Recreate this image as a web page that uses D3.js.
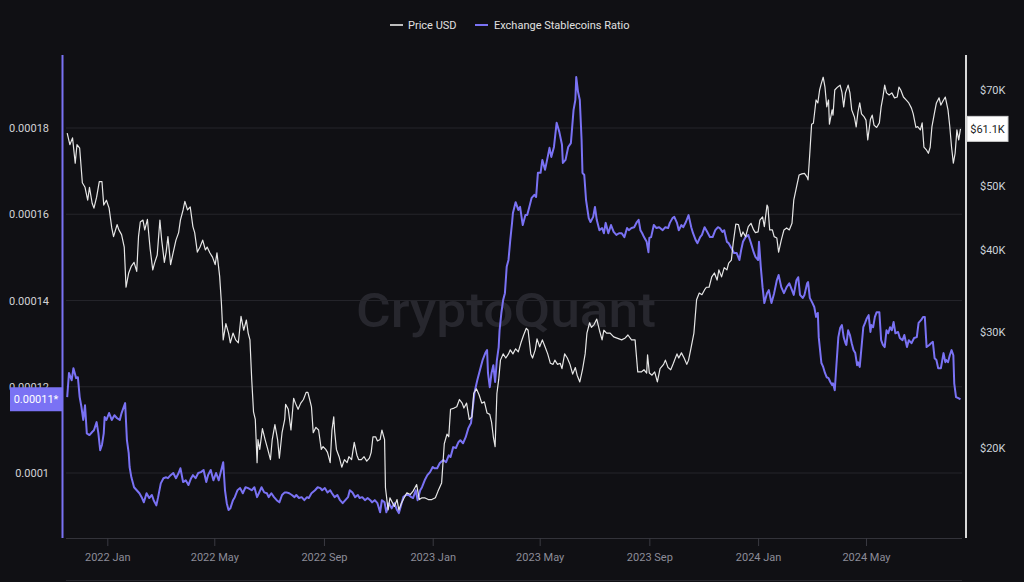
<!DOCTYPE html>
<html><head><meta charset="utf-8">
<script src="https://cdn.jsdelivr.net/npm/d3@7"></script>
<style>
html,body{margin:0;padding:0;background:#101014;}
svg{display:block;}
text{font-family:"Segoe UI",Roboto,"Noto Sans",sans-serif;}
</style></head><body>
<svg id="chart" width="1024" height="582"></svg>
<script>
// ---------- DATA ----------
const priceDates = [
"2021-11-17","2021-11-20","2021-11-23","2021-11-26","2021-11-28","2021-12-01","2021-12-04","2021-12-07","2021-12-10","2021-12-12",
"2021-12-15","2021-12-17","2021-12-20","2021-12-23","2021-12-26","2021-12-28","2021-12-31","2022-01-03","2022-01-06","2022-01-08",
"2022-01-12","2022-01-14","2022-01-17","2022-01-20","2022-01-22","2022-01-25","2022-01-28","2022-01-31","2022-02-03","2022-02-05",
"2022-02-07","2022-02-10","2022-02-12","2022-02-15","2022-02-18","2022-02-21","2022-02-23","2022-02-26","2022-03-01","2022-03-03",
"2022-03-06","2022-03-08","2022-03-10","2022-03-13","2022-03-16","2022-03-19","2022-03-22","2022-03-24","2022-03-27","2022-03-29",
"2022-04-01","2022-04-04","2022-04-07","2022-04-09","2022-04-12","2022-04-15","2022-04-18","2022-04-21","2022-04-23","2022-04-26",
"2022-04-29","2022-05-02","2022-05-04","2022-05-07","2022-05-09","2022-05-11","2022-05-14","2022-05-17","2022-05-19","2022-05-22",
"2022-05-25","2022-05-28","2022-05-31","2022-06-03","2022-06-06","2022-06-08","2022-06-10","2022-06-12","2022-06-14","2022-06-16",
"2022-06-18","2022-06-19","2022-06-21","2022-06-24","2022-06-27","2022-06-30","2022-07-03","2022-07-05","2022-07-08","2022-07-11",
"2022-07-13","2022-07-16","2022-07-19","2022-07-20","2022-07-23","2022-07-26","2022-07-29","2022-07-31","2022-08-03","2022-08-06",
"2022-08-09","2022-08-12","2022-08-14","2022-08-16","2022-08-18","2022-08-20","2022-08-23","2022-08-26","2022-08-29","2022-08-31",
"2022-09-03","2022-09-05","2022-09-08","2022-09-10","2022-09-12","2022-09-13","2022-09-15","2022-09-18","2022-09-21","2022-09-24",
"2022-09-27","2022-09-29","2022-10-02","2022-10-05","2022-10-08","2022-10-10","2022-10-13","2022-10-16","2022-10-19","2022-10-22",
"2022-10-24","2022-10-26","2022-10-29","2022-10-31","2022-11-03","2022-11-05","2022-11-08","2022-11-09","2022-11-12","2022-11-14",
"2022-11-17","2022-11-19","2022-11-22","2022-11-24","2022-11-27","2022-11-30","2022-12-03","2022-12-07","2022-12-10","2022-12-14",
"2022-12-17","2022-12-20","2022-12-23","2022-12-27","2022-12-31","2023-01-04","2023-01-07","2023-01-11","2023-01-14","2023-01-17",
"2023-01-19","2023-01-21","2023-01-25","2023-01-28","2023-01-31","2023-02-03","2023-02-05","2023-02-08","2023-02-11","2023-02-14",
"2023-02-16","2023-02-19","2023-02-22","2023-02-25","2023-02-28","2023-03-03","2023-03-06","2023-03-08","2023-03-10","2023-03-12",
"2023-03-14","2023-03-16","2023-03-18","2023-03-21","2023-03-24","2023-03-27","2023-03-29","2023-04-01","2023-04-04","2023-04-07",
"2023-04-10","2023-04-13","2023-04-16","2023-04-18","2023-04-21","2023-04-23","2023-04-26","2023-04-28","2023-05-01","2023-05-04",
"2023-05-07","2023-05-10","2023-05-13","2023-05-16","2023-05-18","2023-05-21","2023-05-24","2023-05-26","2023-05-29","2023-06-01",
"2023-06-04","2023-06-07","2023-06-10","2023-06-12","2023-06-15","2023-06-18","2023-06-21","2023-06-23","2023-06-26","2023-06-28",
"2023-07-01","2023-07-04","2023-07-07","2023-07-10","2023-07-12","2023-07-15","2023-07-19","2023-07-23","2023-07-26","2023-08-01",
"2023-08-05","2023-08-08","2023-08-12","2023-08-16","2023-08-19","2023-08-23","2023-08-26","2023-08-29","2023-08-30","2023-09-01",
"2023-09-04","2023-09-07","2023-09-10","2023-09-13","2023-09-17","2023-09-19","2023-09-22","2023-09-25","2023-09-28","2023-10-02",
"2023-10-04","2023-10-07","2023-10-10","2023-10-13","2023-10-15","2023-10-18","2023-10-21","2023-10-24","2023-10-27","2023-10-30",
"2023-11-02","2023-11-04","2023-11-07","2023-11-10","2023-11-13","2023-11-16","2023-11-18","2023-11-21","2023-11-24","2023-11-27",
"2023-11-29","2023-12-02","2023-12-04","2023-12-07","2023-12-10","2023-12-13","2023-12-15","2023-12-18","2023-12-21","2023-12-24",
"2023-12-27","2023-12-29","2024-01-01","2024-01-03","2024-01-06","2024-01-08","2024-01-11","2024-01-12","2024-01-14","2024-01-17",
"2024-01-19","2024-01-22","2024-01-24","2024-01-27","2024-01-30","2024-02-02","2024-02-05","2024-02-08","2024-02-10","2024-02-13",
"2024-02-16","2024-02-19","2024-02-22","2024-02-25","2024-02-26","2024-02-28","2024-03-01","2024-03-03","2024-03-06","2024-03-08",
"2024-03-10","2024-03-12","2024-03-14","2024-03-16","2024-03-18","2024-03-20","2024-03-21","2024-03-24","2024-03-25","2024-03-27",
"2024-03-30","2024-04-02","2024-04-04","2024-04-06","2024-04-08","2024-04-11","2024-04-13","2024-04-15","2024-04-18","2024-04-20",
"2024-04-22","2024-04-24","2024-04-26","2024-04-29","2024-05-01","2024-05-03","2024-05-06","2024-05-08","2024-05-10","2024-05-13",
"2024-05-16","2024-05-18","2024-05-20","2024-05-22","2024-05-24","2024-05-27","2024-05-30","2024-06-02","2024-06-05","2024-06-07",
"2024-06-09","2024-06-12","2024-06-15","2024-06-18","2024-06-21","2024-06-23","2024-06-26","2024-06-28","2024-07-01","2024-07-03",
"2024-07-05","2024-07-08","2024-07-10","2024-07-12","2024-07-14","2024-07-17","2024-07-19","2024-07-22","2024-07-24","2024-07-27",
"2024-07-29","2024-08-01","2024-08-03","2024-08-05","2024-08-07","2024-08-09","2024-08-11","2024-08-13","2024-08-15"
];
const priceValues = [
60200,57800,59200,54200,57800,57100,50600,49800,47600,49800,
47100,46300,48100,50800,50800,46800,47600,46300,43200,41900,
43700,42900,42200,40400,35100,36900,37800,38300,37100,41900,
44100,44400,42900,44500,40200,37300,38200,39300,44400,41400,
38300,39700,41900,38000,39700,41400,42500,44400,46000,47400,
46000,46500,43400,42500,39700,40400,41400,40000,40400,39600,
39000,38000,39600,36500,33200,29200,30900,29900,28900,29900,
29200,28900,31700,30200,31300,29900,29200,25400,22700,22100,
19000,20600,19900,21400,20600,19900,19200,20600,21700,20600,
19300,21100,22100,23300,22900,21300,23800,23400,22900,23400,
23700,24300,24300,23700,23100,21100,21500,21300,19900,20100,
19900,19700,19000,21300,22300,21200,19900,19400,18700,19200,
19000,19400,19200,20400,19500,19200,19200,19400,19100,19300,
19700,20800,20800,20500,20600,21300,20600,17400,16100,16800,
16500,16300,16700,16100,16500,16800,17100,17000,17200,17600,
16700,16800,16800,16700,16700,16800,17200,17700,20300,21000,
20800,22900,23000,23100,23700,23400,23000,23400,22100,22300,
24200,24600,24100,23400,23500,22600,22500,21900,20800,20100,
24200,25400,27200,27800,27400,27800,28200,27800,28300,28000,
28900,29700,30400,30200,27800,27400,28200,29300,28500,29200,
28500,27800,26900,26800,27200,26800,26900,26400,27800,27400,
26800,25900,26500,25800,25200,26300,27800,29900,31000,30500,
30800,31400,30200,29200,30200,29900,29900,29500,29400,29200,
29400,29700,29200,29200,26100,26100,26300,26000,27700,26000,
25800,26100,25200,26400,26800,27200,26500,26300,26900,27800,
27400,27900,27400,26800,27200,28500,29900,33600,34400,34200,
34800,35100,35100,36400,36900,36000,37300,36400,37600,37300,
38200,38600,40900,43800,43700,41900,42600,41900,43400,43900,
42900,42500,42600,44400,44900,43400,46800,46500,42900,42900,
41900,41700,39700,41400,42900,43200,42900,43900,47600,49800,
52000,52200,52300,51600,51100,56100,62100,62300,67600,66900,
70000,71700,73200,70700,66000,67600,62100,65300,64100,70000,
70700,71200,69500,66000,69300,71200,69300,65300,63700,61500,
64800,66900,64400,63700,63000,58800,63200,64100,61900,61400,
62400,66000,68300,71200,69300,68800,69300,68100,68300,70700,
70000,68300,67600,66900,65700,64400,61400,61600,60900,62400,
57300,56700,56100,57300,61600,64800,66900,68100,66400,67600,
68300,65300,61600,57300,54200,56100,60900,58800,61100
];
const ratioDates = [
"2021-11-17","2021-11-19","2021-11-22","2021-11-24","2021-11-27","2021-11-29","2021-12-01","2021-12-03","2021-12-05","2021-12-07",
"2021-12-09","2021-12-12","2021-12-15","2021-12-17","2021-12-20","2021-12-22","2021-12-24","2021-12-26","2021-12-28","2021-12-29",
"2021-12-31","2022-01-03","2022-01-06","2022-01-09","2022-01-12","2022-01-15","2022-01-17","2022-01-21","2022-01-23","2022-01-25",
"2022-01-26","2022-01-28","2022-01-31","2022-02-03","2022-02-06","2022-02-09","2022-02-11","2022-02-14","2022-02-17","2022-02-20",
"2022-02-22","2022-02-25","2022-02-27","2022-03-02","2022-03-05","2022-03-08","2022-03-10","2022-03-13","2022-03-16","2022-03-19",
"2022-03-22","2022-03-24","2022-03-27","2022-03-30","2022-04-02","2022-04-05","2022-04-07","2022-04-10","2022-04-13","2022-04-16",
"2022-04-19","2022-04-22","2022-04-24","2022-04-27","2022-04-30","2022-05-03","2022-05-06","2022-05-08","2022-05-11","2022-05-13",
"2022-05-15","2022-05-17","2022-05-19","2022-05-22","2022-05-24","2022-05-27","2022-05-30","2022-06-02","2022-06-05","2022-06-08",
"2022-06-12","2022-06-15","2022-06-18","2022-06-20","2022-06-23","2022-06-26","2022-06-29","2022-07-01","2022-07-04","2022-07-07",
"2022-07-10","2022-07-13","2022-07-16","2022-07-19","2022-07-21","2022-07-24","2022-07-27","2022-07-30","2022-08-01","2022-08-04",
"2022-08-07","2022-08-10","2022-08-13","2022-08-15","2022-08-18","2022-08-22","2022-08-25","2022-08-28","2022-08-30","2022-09-02",
"2022-09-05","2022-09-08","2022-09-10","2022-09-13","2022-09-16","2022-09-19","2022-09-22","2022-09-25","2022-09-28","2022-09-30",
"2022-10-03","2022-10-06","2022-10-09","2022-10-11","2022-10-14","2022-10-17","2022-10-20","2022-10-23","2022-10-25","2022-10-28",
"2022-10-31","2022-11-03","2022-11-05","2022-11-08","2022-11-10","2022-11-13","2022-11-16","2022-11-19","2022-11-22","2022-11-24",
"2022-11-26","2022-11-29","2022-12-02","2022-12-05","2022-12-08","2022-12-10","2022-12-13","2022-12-15","2022-12-18","2022-12-20",
"2022-12-23","2022-12-26","2022-12-29","2023-01-01","2023-01-03","2023-01-06","2023-01-09","2023-01-13","2023-01-16","2023-01-19",
"2023-01-21","2023-01-24","2023-01-27","2023-01-30","2023-02-01","2023-02-04","2023-02-07","2023-02-10","2023-02-13","2023-02-15",
"2023-02-17","2023-02-20","2023-02-23","2023-02-26","2023-03-01","2023-03-03","2023-03-04","2023-03-06","2023-03-08","2023-03-10",
"2023-03-12","2023-03-14","2023-03-16","2023-03-17","2023-03-19","2023-03-21","2023-03-23","2023-03-25","2023-03-27","2023-03-29",
"2023-03-31","2023-04-01","2023-04-04","2023-04-07","2023-04-09","2023-04-12","2023-04-15","2023-04-17","2023-04-19","2023-04-22",
"2023-04-25","2023-04-27","2023-04-29","2023-05-02","2023-05-04","2023-05-07","2023-05-10","2023-05-12","2023-05-14","2023-05-17",
"2023-05-20","2023-05-23","2023-05-26","2023-05-27","2023-05-30","2023-06-02","2023-06-05","2023-06-08","2023-06-10","2023-06-11",
"2023-06-13","2023-06-15","2023-06-17","2023-06-18","2023-06-20","2023-06-22","2023-06-25","2023-06-27","2023-06-30","2023-07-02",
"2023-07-04","2023-07-07","2023-07-10","2023-07-12","2023-07-14","2023-07-17","2023-07-20","2023-07-23","2023-07-26","2023-07-29",
"2023-08-01","2023-08-04","2023-08-07","2023-08-09","2023-08-12","2023-08-15","2023-08-18","2023-08-20","2023-08-22","2023-08-24",
"2023-08-26","2023-08-29","2023-08-31","2023-09-01","2023-09-03","2023-09-06","2023-09-09","2023-09-12","2023-09-16","2023-09-19",
"2023-09-22","2023-09-24","2023-09-27","2023-09-29","2023-10-02","2023-10-04","2023-10-07","2023-10-09","2023-10-12","2023-10-15",
"2023-10-18","2023-10-20","2023-10-23","2023-10-25","2023-10-28","2023-10-30","2023-11-02","2023-11-05","2023-11-08","2023-11-11",
"2023-11-14","2023-11-17","2023-11-19","2023-11-22","2023-11-24","2023-11-27","2023-11-29","2023-12-02","2023-12-05","2023-12-08",
"2023-12-11","2023-12-13","2023-12-15","2023-12-18","2023-12-21","2023-12-24","2023-12-27","2023-12-29","2024-01-01","2024-01-02",
"2024-01-04","2024-01-06","2024-01-08","2024-01-11","2024-01-13","2024-01-16","2024-01-19","2024-01-22","2024-01-24","2024-01-27",
"2024-01-30","2024-02-02","2024-02-05","2024-02-08","2024-02-10","2024-02-13","2024-02-15","2024-02-17","2024-02-20","2024-02-22",
"2024-02-25","2024-02-26","2024-02-28","2024-03-02","2024-03-04","2024-03-06","2024-03-08","2024-03-09","2024-03-12","2024-03-14",
"2024-03-16","2024-03-18","2024-03-20","2024-03-22","2024-03-24","2024-03-25","2024-03-27","2024-03-29","2024-03-31","2024-04-02",
"2024-04-04","2024-04-06","2024-04-08","2024-04-09","2024-04-11","2024-04-13","2024-04-15","2024-04-17","2024-04-19","2024-04-21",
"2024-04-22","2024-04-24","2024-04-26","2024-04-28","2024-04-30","2024-05-02","2024-05-04","2024-05-06","2024-05-07","2024-05-09",
"2024-05-11","2024-05-13","2024-05-16","2024-05-18","2024-05-20","2024-05-22","2024-05-24","2024-05-26","2024-05-28","2024-05-30",
"2024-06-01","2024-06-03","2024-06-06","2024-06-08","2024-06-11","2024-06-13","2024-06-16","2024-06-18","2024-06-21","2024-06-24",
"2024-06-27","2024-06-29","2024-07-02","2024-07-04","2024-07-06","2024-07-08","2024-07-11","2024-07-13","2024-07-15","2024-07-17",
"2024-07-19","2024-07-21","2024-07-24","2024-07-27","2024-07-29","2024-07-30","2024-08-01","2024-08-03","2024-08-05","2024-08-07",
"2024-08-08","2024-08-10","2024-08-12","2024-08-15"
];
const ratioValues = [
11.76e-5,12.32e-5,12.15e-5,12.43e-5,12.20e-5,12.22e-5,11.76e-5,11.53e-5,11.23e-5,11.57e-5,
10.92e-5,10.88e-5,10.95e-5,10.99e-5,11.18e-5,10.92e-5,10.53e-5,10.65e-5,10.92e-5,11.30e-5,
11.23e-5,11.39e-5,11.23e-5,11.34e-5,11.27e-5,11.23e-5,11.39e-5,11.62e-5,10.76e-5,10.46e-5,
10.14e-5,9.90e-5,9.67e-5,9.60e-5,9.53e-5,9.42e-5,9.32e-5,9.53e-5,9.42e-5,9.49e-5,
9.37e-5,9.25e-5,9.44e-5,9.76e-5,9.88e-5,9.90e-5,9.88e-5,9.95e-5,10.00e-5,9.88e-5,
10.00e-5,10.11e-5,9.79e-5,9.83e-5,9.72e-5,9.88e-5,9.95e-5,9.88e-5,10.00e-5,10.02e-5,
10.07e-5,9.79e-5,9.95e-5,10.07e-5,9.83e-5,10.00e-5,9.83e-5,10.00e-5,10.25e-5,9.60e-5,
9.30e-5,9.14e-5,9.18e-5,9.37e-5,9.44e-5,9.60e-5,9.65e-5,9.53e-5,9.67e-5,9.65e-5,
9.60e-5,9.67e-5,9.44e-5,9.53e-5,9.67e-5,9.55e-5,9.53e-5,9.44e-5,9.53e-5,9.44e-5,
9.37e-5,9.32e-5,9.49e-5,9.55e-5,9.55e-5,9.53e-5,9.49e-5,9.44e-5,9.49e-5,9.42e-5,
9.44e-5,9.37e-5,9.44e-5,9.42e-5,9.53e-5,9.60e-5,9.67e-5,9.65e-5,9.60e-5,9.65e-5,
9.55e-5,9.60e-5,9.53e-5,9.44e-5,9.49e-5,9.37e-5,9.30e-5,9.37e-5,9.44e-5,9.60e-5,
9.55e-5,9.44e-5,9.49e-5,9.42e-5,9.44e-5,9.37e-5,9.42e-5,9.37e-5,9.32e-5,9.37e-5,
9.30e-5,9.09e-5,9.37e-5,9.32e-5,9.09e-5,9.30e-5,9.18e-5,9.30e-5,9.14e-5,9.07e-5,
9.21e-5,9.44e-5,9.49e-5,9.49e-5,9.44e-5,9.42e-5,9.60e-5,9.37e-5,9.60e-5,9.67e-5,
9.83e-5,9.95e-5,10.02e-5,10.14e-5,10.11e-5,10.11e-5,10.23e-5,10.30e-5,10.25e-5,10.41e-5,
10.37e-5,10.60e-5,10.58e-5,10.72e-5,10.76e-5,10.69e-5,10.83e-5,11.04e-5,11.16e-5,11.53e-5,
11.88e-5,12.15e-5,12.39e-5,12.62e-5,12.78e-5,12.85e-5,12.32e-5,11.99e-5,12.32e-5,12.50e-5,
12.11e-5,12.62e-5,12.92e-5,13.31e-5,13.71e-5,14.01e-5,14.17e-5,14.78e-5,14.94e-5,15.40e-5,
15.80e-5,16.03e-5,16.28e-5,16.10e-5,16.17e-5,15.75e-5,15.98e-5,15.98e-5,16.14e-5,16.38e-5,
16.45e-5,16.40e-5,16.96e-5,16.96e-5,17.26e-5,17.03e-5,17.33e-5,17.54e-5,17.33e-5,17.56e-5,
18.12e-5,17.91e-5,17.61e-5,17.19e-5,17.26e-5,17.56e-5,17.65e-5,18.42e-5,18.65e-5,19.18e-5,
18.84e-5,18.65e-5,17.72e-5,16.96e-5,16.91e-5,16.33e-5,15.91e-5,15.82e-5,15.94e-5,16.17e-5,
15.87e-5,15.63e-5,15.68e-5,15.56e-5,15.80e-5,15.56e-5,15.75e-5,15.59e-5,15.52e-5,15.56e-5,
15.56e-5,15.47e-5,15.68e-5,15.63e-5,15.68e-5,15.70e-5,15.82e-5,15.87e-5,15.63e-5,15.56e-5,
15.47e-5,15.36e-5,15.12e-5,15.45e-5,15.47e-5,15.75e-5,15.68e-5,15.70e-5,15.63e-5,15.70e-5,
15.68e-5,15.80e-5,15.91e-5,15.94e-5,15.80e-5,15.63e-5,15.75e-5,15.70e-5,15.82e-5,15.98e-5,
15.70e-5,15.56e-5,15.40e-5,15.33e-5,15.47e-5,15.52e-5,15.70e-5,15.59e-5,15.47e-5,15.47e-5,
15.63e-5,15.70e-5,15.68e-5,15.59e-5,15.63e-5,15.36e-5,15.33e-5,15.22e-5,15.10e-5,15.10e-5,
14.94e-5,15.17e-5,15.36e-5,15.47e-5,15.52e-5,15.33e-5,15.12e-5,15.01e-5,14.94e-5,15.36e-5,
14.78e-5,14.31e-5,13.94e-5,14.17e-5,14.24e-5,13.94e-5,14.17e-5,14.47e-5,14.59e-5,14.31e-5,
14.17e-5,14.31e-5,14.40e-5,14.24e-5,14.13e-5,14.47e-5,14.54e-5,14.13e-5,14.06e-5,14.13e-5,
14.40e-5,14.43e-5,14.06e-5,13.94e-5,13.85e-5,13.62e-5,13.71e-5,13.15e-5,12.55e-5,12.46e-5,
12.32e-5,12.22e-5,12.20e-5,12.11e-5,12.04e-5,12.08e-5,11.92e-5,12.55e-5,13.15e-5,13.36e-5,
13.43e-5,13.15e-5,13.01e-5,12.97e-5,13.31e-5,13.20e-5,13.01e-5,12.85e-5,12.78e-5,12.50e-5,
12.57e-5,12.46e-5,12.92e-5,13.38e-5,13.48e-5,13.59e-5,13.66e-5,13.27e-5,13.43e-5,13.38e-5,
13.62e-5,13.73e-5,13.73e-5,13.08e-5,12.97e-5,12.92e-5,13.31e-5,13.24e-5,13.38e-5,13.31e-5,
13.50e-5,13.24e-5,13.27e-5,13.13e-5,13.08e-5,13.20e-5,12.92e-5,13.08e-5,13.01e-5,13.13e-5,
13.15e-5,13.48e-5,13.55e-5,13.62e-5,13.62e-5,12.92e-5,12.97e-5,13.01e-5,13.04e-5,12.66e-5,
12.62e-5,12.43e-5,12.43e-5,12.78e-5,12.57e-5,12.62e-5,12.57e-5,12.73e-5,12.85e-5,12.73e-5,
12.08e-5,11.76e-5,11.74e-5,11.71e-5
];
const ratioTicks = [0.0001, 0.00012, 0.00014, 0.00016, 0.00018];
const priceTicks = [20000, 30000, 40000, 50000, 70000];
const monthTicks = ["2022-01-01","2022-05-01","2022-09-01","2023-01-01","2023-05-01","2023-09-01","2024-01-01","2024-05-01"];
const seriesNames = ["Price USD", "Exchange Stablecoins Ratio"];
const xDomain = ["2021-11-15T16:00:00Z", "2024-08-16T17:00:00Z"];

// ---------- CHART ----------
const W = 1024, H = 582;
const plot = {left: 66, right: 962, top: 55, bottom: 538};
const COL_RATIO = "#7a72f4", COL_PRICE = "#e6e6e6";
const parse = d3.utcParse("%Y-%m-%d");

const svg = d3.select("#chart");
svg.append("rect").attr("width", W).attr("height", H).attr("fill", "#101014");

const x = d3.scaleUtc().domain(xDomain.map(s => new Date(s))).range([plot.left, plot.right]);
const yR = d3.scaleLinear().domain([0.0001, 0.00018]).range([473, 128]);
const yP = d3.scaleLog().domain([20000, 70000]).range([448, 90]);

// watermark
svg.append("text").attr("x", 506).attr("y", 327).attr("text-anchor", "middle")
  .attr("font-size", 48).attr("font-weight", 500).attr("fill", "#27272e")
  .attr("textLength", 300).attr("lengthAdjust", "spacingAndGlyphs")
  .text("CryptoQuant");

// grid
svg.append("g").selectAll("line").data(ratioTicks).join("line")
  .attr("x1", plot.left).attr("x2", plot.right)
  .attr("y1", d => yR(d)).attr("y2", d => yR(d))
  .attr("stroke", "#24242a").attr("stroke-width", 1);

// bottom axis
const xAxis = d3.axisBottom(x).tickValues(monthTicks.map(parse))
  .tickFormat(d3.utcFormat("%Y %b")).tickSize(8).tickPadding(7);
const gx = svg.append("g").attr("transform", `translate(0,${plot.bottom})`).call(xAxis);
gx.select(".domain").attr("stroke", "#33333a").attr("d", `M${plot.left},0.5H${plot.right}`);
gx.selectAll(".tick line").attr("stroke", "#3a3a42");
gx.selectAll(".tick text").attr("fill", "#8c8c98").attr("font-size", 11)
  .attr("font-family", '"Segoe UI",Roboto,"Noto Sans",sans-serif');
svg.append("line").attr("x1", plot.left).attr("x2", plot.right).attr("y1", 580.5).attr("y2", 580.5)
  .attr("stroke", "#26262c");

// left axis (ratio)
const yAxisL = d3.axisLeft(yR).tickValues(ratioTicks).tickFormat(d => String(d)).tickSize(0).tickPadding(0);
const gl = svg.append("g").attr("transform", "translate(49,0)").call(yAxisL);
gl.select(".domain").remove();
gl.selectAll(".tick text").attr("fill", "#d2d2d6").attr("font-size", 11)
  .attr("font-family", '"Segoe UI",Roboto,"Noto Sans",sans-serif');
svg.append("line").attr("x1", 62.5).attr("x2", 62.5).attr("y1", plot.top).attr("y2", plot.bottom)
  .attr("stroke", COL_RATIO).attr("stroke-width", 2);

// right axis (price)
const yAxisR = d3.axisRight(yP).tickValues(priceTicks).tickFormat(d => "$" + d / 1000 + "K").tickSize(0).tickPadding(0);
const gr = svg.append("g").attr("transform", "translate(980,0)").call(yAxisR);
gr.select(".domain").remove();
gr.selectAll(".tick text").attr("fill", "#ccd3da").attr("font-size", 11)
  .attr("font-family", '"Segoe UI",Roboto,"Noto Sans",sans-serif');
svg.append("line").attr("x1", 966).attr("x2", 966).attr("y1", plot.top).attr("y2", plot.bottom)
  .attr("stroke", "#d8d8d8").attr("stroke-width", 2);

// clip
svg.append("clipPath").attr("id", "clip").append("rect")
  .attr("x", plot.left).attr("y", plot.top).attr("width", plot.right - plot.left).attr("height", plot.bottom - plot.top);

const ratioData = ratioDates.map((d, i) => ({date: parse(d), v: ratioValues[i]}));
const priceData = priceDates.map((d, i) => ({date: parse(d), v: priceValues[i]}));

svg.append("path").datum(ratioData).attr("clip-path", "url(#clip)")
  .attr("fill", "none").attr("stroke", COL_RATIO).attr("stroke-width", 2).attr("stroke-linejoin", "round")
  .attr("d", d3.line().x(d => x(d.date)).y(d => yR(d.v)));
svg.append("path").datum(priceData).attr("clip-path", "url(#clip)")
  .attr("fill", "none").attr("stroke", COL_PRICE).attr("stroke-width", 1.2).attr("stroke-linejoin", "round")
  .attr("d", d3.line().x(d => x(d.date)).y(d => yP(d.v)));

// badges
const lastR = ratioValues[ratioValues.length - 1];
const lastP = priceValues[priceValues.length - 1];
const byR = yR(lastR), byP = yP(lastP);
svg.append("rect").attr("x", 10).attr("y", byR - 12).attr("width", 52).attr("height", 24).attr("fill", COL_RATIO);
svg.append("text").attr("x", 36).attr("y", byR).attr("dy", "0.35em").attr("text-anchor", "middle")
  .attr("fill", "#ffffff").attr("font-size", 11).text(String(Math.floor(lastR * 1e5) / 1e5) + "*");
svg.append("rect").attr("x", 967).attr("y", byP - 12.5).attr("width", 41).attr("height", 25)
  .attr("fill", "#ffffff").attr("stroke", "#cfcfcf").attr("stroke-width", 1);
svg.append("text").attr("x", 987.5).attr("y", byP).attr("dy", "0.35em").attr("text-anchor", "middle")
  .attr("fill", "#222").attr("font-size", 11).text("$" + (lastP / 1000).toFixed(1) + "K");

// legend
const legend = svg.append("g");
const legendPos = [{mx: 390, tx: 408, c: "#bdbdbd"}, {mx: 475, tx: 494, c: COL_RATIO}];
seriesNames.forEach((name, i) => {
  const p = legendPos[i];
  legend.append("line").attr("x1", p.mx).attr("x2", p.mx + 13).attr("y1", 25).attr("y2", 25)
    .attr("stroke", p.c).attr("stroke-width", 2);
  legend.append("text").attr("x", p.tx).attr("y", 25).attr("dy", "0.35em")
    .attr("fill", "#e0e0e0").attr("font-size", 11).text(name);
});
</script>
</body></html>
